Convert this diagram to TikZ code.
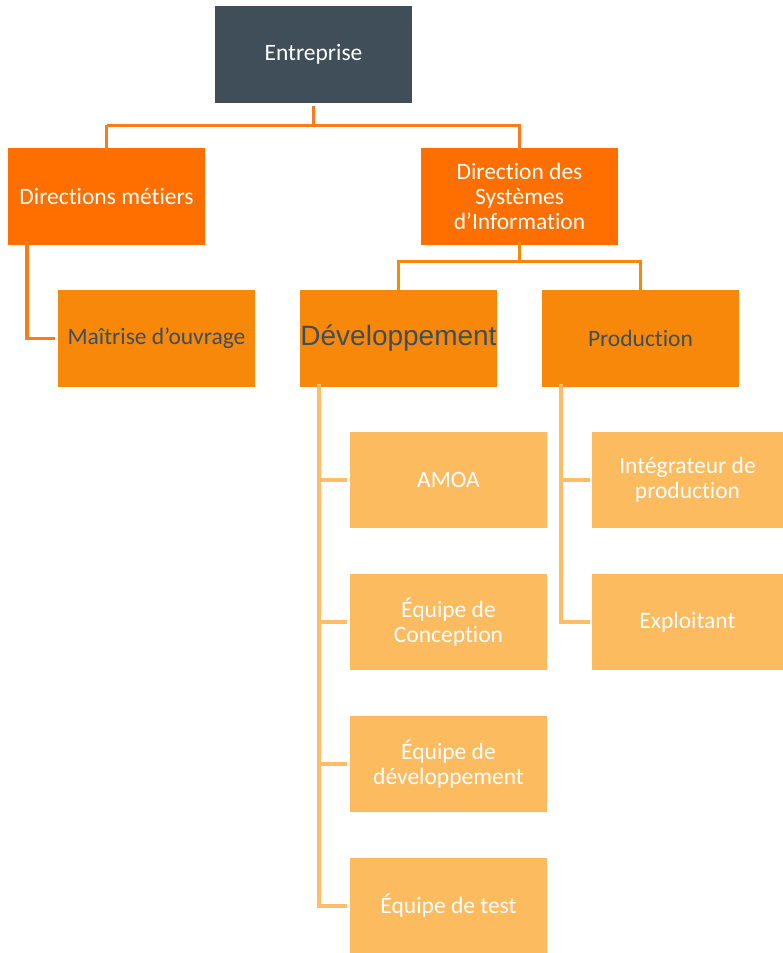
\documentclass[tikz,border=0pt]{standalone}
\usepackage{fontspec}
\setmainfont[Ligatures=NoCommon]{Carlito}
\newfontfamily\arialfont{Liberation Sans}
\definecolor{slate}{HTML}{3F4E59}
\definecolor{orangeA}{HTML}{FF6F00}
\definecolor{orangeB}{HTML}{F7880A}
\definecolor{orangeC}{HTML}{FDBB60}
\definecolor{lineA}{HTML}{F97B1C}
\definecolor{lineC}{HTML}{FDBE6A}
\begin{document}
\begin{tikzpicture}[x=1pt,y=-1pt,
  box/.style={rectangle,inner sep=0pt,minimum width=197pt,minimum height=97pt,align=center,font=\fontsize{23.5}{25}\selectfont},
  topbox/.style={box,fill=slate,text=white},
  lvlA/.style={box,fill=orangeA,text=white},
  lvlB/.style={box,fill=orangeB,text=slate},
  lvlC/.style={box,fill=orangeC,text=white,minimum height=96pt},
  linkA/.style={draw=lineA,line width=3.2pt},
  linkC/.style={draw=lineC,line width=3.2pt}]
\useasboundingbox (0,0) rectangle (783,953);
\node[topbox] (ent) at (313.5,54.5) {Entreprise};
\node[lvlA] (dm) at (106.5,196.5) {Directions métiers};
\node[lvlA] (dsi) at (519.5,196.5) {Direction des\\Systèmes\\d’Information};
\node[lvlB] (moa) at (156.5,338.5) {Maîtrise d’ouvrage};
\node[lvlB,font=\arialfont\fontsize{28}{30}\selectfont] (dev) at (398.5,338.5) {Développement};
\node[lvlB] (prod) at (640.5,338.5) {Production};
\node[lvlC] (amoa) at (448.5,480) {AMOA};
\node[lvlC] (conc) at (448.5,622) {Équipe de\\Conception};
\node[lvlC] (edev) at (448.5,764) {Équipe de\\développement};
\node[lvlC] (test) at (448.5,906) {Équipe de test};
\node[lvlC,minimum width=191pt] (integ) at (687.5,480) {Intégrateur de\\production};
\node[lvlC,minimum width=191pt] (expl) at (687.5,622) {Exploitant};
% top level
\draw[linkA] ([yshift=-3pt]ent.south) -- ++(0,19) coordinate (j1);
\draw[linkA] (dm.north |- j1) -- (dsi.north |- j1) -- ([yshift=-3pt]dsi.north);
\draw[linkA] (dm.north |- j1) -- ([yshift=-3pt]dm.north);
\draw[linkA] ([xshift=-79.5pt,yshift=3pt]dm.south) |- ([xshift=-3pt]moa.west);
% DSI level
\draw[linkA,draw=orangeB] ([yshift=3pt]dsi.south) -- ++(0,19) coordinate (j2);
\draw[linkA,draw=orangeB] ([yshift=-3pt]dev.north) -- (dev.north |- j2) -- (prod.north |- j2) -- ([yshift=-3pt]prod.north);
% dev children
\draw[linkC] ([xshift=-79.5pt,yshift=3pt]dev.south) coordinate (d0) |- ([xshift=-3pt]test.west);
\draw[linkC] (d0 |- amoa.west) -- ([xshift=-3pt]amoa.west);
\draw[linkC] (d0 |- conc.west) -- ([xshift=-3pt]conc.west);
\draw[linkC] (d0 |- edev.west) -- ([xshift=-3pt]edev.west);
% prod children
\draw[linkC] ([xshift=-79.5pt,yshift=3pt]prod.south) coordinate (p0) |- ([xshift=-2pt]expl.west);
\draw[linkC] (p0 |- integ.west) -- ([xshift=-2pt]integ.west);
\end{tikzpicture}
\end{document}
